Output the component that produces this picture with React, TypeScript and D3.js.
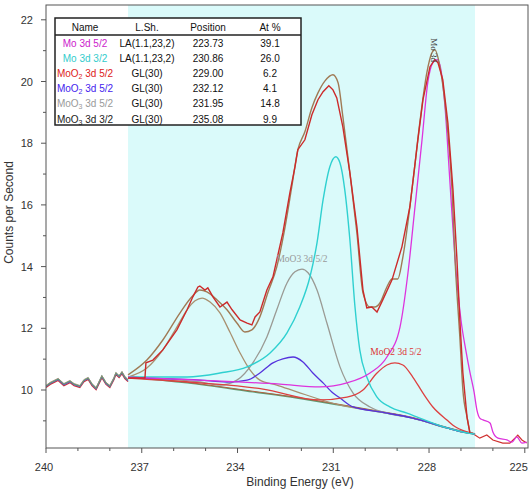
import React from "react";
import * as d3 from "d3";

type Pt = [number, number];

// axis ticks
const energyTicks = [240, 237, 234, 231, 228, 225];
const countTicks = [10, 12, 14, 16, 18, 20, 22];

// fit region (eV)
const fitFrom = 237.43;
const fitTo = 226.56;

// peak table
const rowNames = ["Mo 3d 5/2", "Mo 3d 3/2", "MoO2 3d 5/2", "MoO2 3d 5/2", "MoO3 3d 5/2", "MoO3 3d 3/2"];
const rowShapes = ["LA(1.1,23,2)", "LA(1.1,23,2)", "GL(30)", "GL(30)", "GL(30)", "GL(30)"];
const rowPositions = ["223.73", "230.86", "229.00", "232.12", "231.95", "235.08"];
const rowAtPct = ["39.1", "26.0", "6.2", "4.1", "14.8", "9.9"];
const rowColors = ["#cc22cc", "#33cccc", "#dd2222", "#4422ee", "#9a9a9a", "#222222"];

// raw counts outside the fit region
const rawLeft: Pt[] = [
  [240.0, 10.13], [239.87, 10.23], [239.62, 10.36], [239.44, 10.19], [239.25, 10.29],
  [239.12, 10.19], [238.94, 10.13], [238.81, 10.32], [238.68, 10.39], [238.56, 10.19],
  [238.43, 10.06], [238.31, 10.32], [238.25, 10.45], [238.12, 10.23], [238.0, 10.13],
  [237.87, 10.39], [237.81, 10.55], [237.71, 10.45], [237.62, 10.58], [237.53, 10.42],
  [237.43, 10.32],
];
const rawRight: Pt[] = [
  [226.72, 8.61], [226.66, 8.61], [226.41, 8.44], [226.19, 8.54], [226.0, 8.38],
  [225.69, 8.28], [225.47, 8.28], [225.31, 8.44], [225.22, 8.54], [225.09, 8.38], [224.94, 8.28],
];

// measured counts in the fit region
const counts: Pt[] = [
  [237.43, 10.39], [237.06, 10.39], [236.9, 10.39], [236.87, 10.88], [236.65, 10.97],
  [236.34, 11.3], [235.9, 11.95], [235.58, 12.6], [235.4, 13.02], [235.24, 13.34],
  [235.18, 13.37], [235.02, 13.24], [234.93, 13.31], [234.77, 13.02], [234.55, 12.69],
  [234.33, 12.85], [234.17, 12.6], [233.92, 12.27], [233.7, 12.17], [233.55, 12.11],
  [233.45, 12.37], [233.3, 12.53], [233.08, 13.24], [232.89, 13.67], [232.58, 15.09],
  [232.36, 16.39], [232.2, 17.23], [232.11, 17.79], [231.89, 18.11], [231.67, 18.92],
  [231.48, 19.41], [231.32, 19.67], [231.14, 19.86], [231.01, 19.73], [230.89, 19.47],
  [230.7, 18.53], [230.48, 17.04], [230.26, 15.29], [230.07, 13.24], [229.95, 12.66],
  [229.79, 12.69], [229.63, 12.53], [229.45, 12.92], [229.16, 13.57], [228.85, 14.64],
  [228.6, 15.94], [228.35, 18.11], [228.19, 19.41], [227.97, 20.48], [227.82, 20.71],
  [227.72, 20.61], [227.57, 20.06], [227.41, 18.66], [227.25, 16.49], [227.13, 14.31],
  [227.03, 12.17], [226.94, 10.55], [226.81, 9.12], [226.72, 8.61],
];

// fitted envelope
const envelope: Pt[] = [
  [237.43, 10.49], [236.84, 10.97], [236.34, 11.62], [235.8, 12.5], [235.43, 13.02],
  [235.18, 13.24], [234.96, 13.18], [234.64, 12.92], [234.33, 12.6], [234.02, 12.17],
  [233.77, 11.88], [233.55, 11.95], [233.3, 12.37], [233.05, 13.15], [232.77, 13.99],
  [232.51, 15.29], [232.3, 16.59], [232.11, 17.79], [231.89, 18.37], [231.67, 19.15],
  [231.48, 19.63], [231.26, 20.02], [231.01, 20.22], [230.85, 19.96], [230.7, 18.86],
  [230.48, 17.04], [230.26, 15.09], [230.07, 13.15], [229.85, 12.69], [229.7, 12.69],
  [229.54, 12.82], [229.32, 13.34], [229.16, 13.6], [228.98, 13.6], [228.82, 14.31],
  [228.51, 16.71], [228.29, 18.66], [228.07, 20.28], [227.91, 20.93], [227.82, 21.03],
  [227.66, 20.48], [227.44, 18.66], [227.28, 16.49], [227.19, 14.31], [227.03, 11.62],
  [226.94, 10.0], [226.81, 9.12], [226.72, 8.61],
];

// Shirley background
const background: Pt[] = [
  [237.43, 10.42], [235.58, 10.23], [233.52, 9.94], [232.14, 9.74], [230.79, 9.51],
  [229.54, 9.29], [228.51, 9.09], [227.44, 8.77], [226.94, 8.64], [226.56, 8.57],
];

// components
const moMetal52: Pt[] = [
  [237.43, 10.42], [235.18, 10.32], [232.67, 10.19], [231.42, 10.1], [230.57, 10.23],
  [229.85, 10.55], [229.32, 11.07], [228.91, 12.04], [228.66, 13.8], [228.44, 15.94],
  [228.22, 18.11], [228.04, 19.96], [227.88, 20.61], [227.75, 20.71], [227.66, 20.54],
  [227.5, 19.18], [227.35, 16.81], [227.19, 14.31], [227.0, 12.27], [226.85, 11.3],
  [226.72, 10.58], [226.59, 9.94], [226.5, 9.35], [226.41, 9.09], [226.31, 9.03],
  [226.09, 8.93], [226.0, 8.64], [225.84, 8.44], [225.56, 8.38], [225.4, 8.31],
  [225.25, 8.48], [225.09, 8.28], [224.94, 8.31],
];
const moMetal32: Pt[] = [
  [237.43, 10.42], [235.58, 10.42], [234.55, 10.55], [233.7, 10.75], [232.98, 11.2],
  [232.45, 11.85], [232.05, 12.69], [231.73, 13.67], [231.51, 14.77], [231.32, 16.16],
  [231.11, 17.23], [230.92, 17.56], [230.79, 17.36], [230.64, 16.49], [230.48, 14.87],
  [230.32, 12.69], [230.17, 11.3], [229.95, 10.42], [229.63, 9.77], [229.23, 9.45],
  [228.69, 9.25], [228.29, 9.09], [227.44, 8.77], [226.94, 8.64], [226.56, 8.57],
];
const moO2Red: Pt[] = [
  [237.43, 10.39], [235.18, 10.23], [233.2, 10.03], [231.42, 9.68], [230.57, 9.77],
  [230.07, 10.0], [229.63, 10.55], [229.32, 10.81], [229.07, 10.88], [228.82, 10.81],
  [228.51, 10.42], [228.19, 9.9], [227.88, 9.45], [227.44, 9.03], [227.25, 8.86],
  [226.81, 8.64], [226.56, 8.57],
];
const moO2Blue: Pt[] = [
  [237.43, 10.39], [235.18, 10.32], [234.33, 10.26], [233.7, 10.32], [233.3, 10.55],
  [232.89, 10.88], [232.58, 11.01], [232.26, 11.07], [231.95, 10.91], [231.64, 10.55],
  [231.32, 10.23], [231.01, 9.9], [230.79, 9.74], [230.38, 9.45], [229.54, 9.29],
  [228.51, 9.09], [227.44, 8.77], [226.94, 8.64], [226.56, 8.57],
];
const moO3Grey: Pt[] = [
  [237.43, 10.42], [235.18, 10.26], [234.55, 10.16], [234.02, 10.32], [233.52, 10.88],
  [233.08, 11.72], [232.77, 12.6], [232.45, 13.47], [232.2, 13.83], [231.98, 13.92],
  [231.79, 13.8], [231.51, 13.24], [231.2, 12.17], [230.79, 10.75], [230.38, 9.9],
  [229.85, 9.45], [229.32, 9.25], [228.51, 9.09], [227.44, 8.77], [226.94, 8.64], [226.56, 8.57],
];
const moO3Brown: Pt[] = [
  [237.43, 10.42], [236.84, 10.71], [236.34, 11.3], [235.9, 12.04], [235.58, 12.6],
  [235.33, 12.89], [235.11, 12.98], [234.86, 12.85], [234.55, 12.5], [234.24, 11.88],
  [233.92, 11.2], [233.61, 10.65], [233.3, 10.32], [232.77, 10.16], [232.14, 9.94],
  [230.79, 9.51], [229.54, 9.29], [228.51, 9.09], [227.44, 8.77], [226.94, 8.64], [226.56, 8.57],
];

const sans = "'Liberation Sans', Arial, sans-serif";
const serif = "'Liberation Serif', 'Times New Roman', serif";

function NameLabel({ name, x, y, color }: { name: string; x: number; y: number; color: string }) {
  const m = name.match(/^(MoO)(\d)(.*)$/);
  return (
    <text x={x} y={y} textAnchor="middle" fill={color} fontSize={10} fontFamily={sans}>
      {m ? (
        <>
          {m[1]}
          <tspan fontSize={7} dy={2}>{m[2]}</tspan>
          <tspan dy={-2}>{m[3]}</tspan>
        </>
      ) : (
        name
      )}
    </text>
  );
}

export default function App() {
  const width = 531,
    height = 489;

  const x = d3.scaleLinear().domain([240, 224.9]).range([46, 528]);
  const y = d3.scaleLinear().domain([8.12, 22.48]).range([448, 5]);

  const smooth = d3
    .line<Pt>()
    .x((d) => x(d[0]))
    .y((d) => y(d[1]))
    .curve(d3.curveMonotoneX);
  const jagged = d3
    .line<Pt>()
    .x((d) => x(d[0]))
    .y((d) => y(d[1]));

  const [x0, x1] = x.range();
  const [yb, yt] = y.range();

  const minorX = d3.range(240, 224.9, -1).filter((v) => !energyTicks.includes(v));
  const minorY = d3.range(9, 22.5, 1).filter((v) => !countTicks.includes(v));

  // table layout
  const tbl = { left: 55, right: 301, top: 18, bottom: 125 };
  const colX = [85, 147, 208, 270];
  const rowY = (i: number) => 46.5 + i * 15.2;

  return (
    <svg
      width={width}
      height={height}
      style={{ position: "absolute", left: 0, top: 0, background: "#fff" }}
    >
      <defs>
        <clipPath id="plot">
          <rect x={x0} y={yt} width={x1 - x0} height={yb - yt} />
        </clipPath>
      </defs>

      {/* fit region shading */}
      <rect x={x(fitFrom)} y={yt} width={x(fitTo) - x(fitFrom)} height={yb - yt} fill="#dafafa" />

      <g clipPath="url(#plot)" fill="none">
        {/* raw data outside the fit, several overlapping traces */}
        <path d={jagged(rawLeft)!} stroke="#d03030" strokeWidth={1.3} transform="translate(0,1.5)" />
        <path d={jagged(rawLeft)!} stroke="#6a5acd" strokeWidth={1.1} transform="translate(0,0.6)" />
        <path d={jagged(rawLeft)!} stroke="#4f9a7f" strokeWidth={1.2} />
        <path d={jagged(rawLeft)!} stroke="#a08a70" strokeWidth={0.8} transform="translate(0,-0.6)" />
        <path d={jagged(rawRight)!} stroke="#d03030" strokeWidth={1.2} />

        {/* background */}
        <path d={smooth(background)!} stroke="#5f9a72" strokeWidth={1.4} />
        <path d={smooth(background)!} stroke="#b06040" strokeWidth={1} transform="translate(0,-0.6)" />

        {/* components */}
        <path d={smooth(moO3Brown)!} stroke="#a89070" strokeWidth={1.3} />
        <path d={smooth(moO3Grey)!} stroke="#9a9a94" strokeWidth={1.3} />
        <path d={smooth(moO2Blue)!} stroke="#5533dd" strokeWidth={1.3} />
        <path d={smooth(moO2Red)!} stroke="#dd4040" strokeWidth={1.3} />
        <path d={smooth(moMetal32)!} stroke="#2fd0d0" strokeWidth={1.4} />
        <path d={smooth(moMetal52)!} stroke="#dd33dd" strokeWidth={1.3} />

        {/* envelope and data */}
        <path d={smooth(envelope)!} stroke="#a07a55" strokeWidth={1.4} />
        <path d={jagged(counts)!} stroke="#cc2a2a" strokeWidth={1.4} />
      </g>

      {/* peak labels */}
      <text x={x(231.98)} y={y(14.15)} textAnchor="middle" fontSize={9.5} fontFamily={serif} fill="#999">
        MoO3 3d 5/2
      </text>
      <text x={x(229.04)} y={y(11.12)} textAnchor="middle" fontSize={9.5} fontFamily={serif} fill="#dd3333">
        MoO2 3d 5/2
      </text>
      <text
        transform={`translate(${x(227.86) - 3},${y(21.4)}) rotate(90)`}
        fontSize={9}
        fontFamily={serif}
        fill="#444"
      >
        Mo 3d
      </text>

      {/* frame */}
      <rect x={x0} y={yt} width={x1 - x0} height={yb - yt} fill="none" stroke="#555" strokeWidth={1} />

      {/* x axis */}
      {energyTicks.map((t, i) => (
        <g key={"xt" + t}>
          <line x1={x(t)} x2={x(t)} y1={yb} y2={yb + 5} stroke="#555" />
          <text
            x={i === energyTicks.length - 1 ? x(t) + 3 : x(t) - 2}
            y={yb + 23}
            textAnchor={i === energyTicks.length - 1 ? "end" : "middle"}
            fontSize={11}
            fontFamily={sans}
            fill="#333"
          >
            {t}
          </text>
        </g>
      ))}
      {minorX.map((t) => (
        <line key={"xm" + t} x1={x(t)} x2={x(t)} y1={yb} y2={yb + 3} stroke="#555" />
      ))}
      <text x={300} y={486} textAnchor="middle" fontSize={12} fontFamily={sans} fill="#333">
        Binding Energy (eV)
      </text>

      {/* y axis */}
      {countTicks.map((t) => (
        <g key={"yt" + t}>
          <line x1={x0 - 5} x2={x0} y1={y(t)} y2={y(t)} stroke="#555" />
          <text x={33} y={y(t) + 4} textAnchor="end" fontSize={11} fontFamily={sans} fill="#333">
            {t}
          </text>
        </g>
      ))}
      {minorY.map((t) => (
        <line key={"ym" + t} x1={x0 - 3} x2={x0} y1={y(t)} y2={y(t)} stroke="#555" />
      ))}
      <text
        transform={`translate(13,${(yt + yb) / 2 - 14}) rotate(-90)`}
        textAnchor="middle"
        fontSize={12}
        fontFamily={sans}
        fill="#333"
      >
        Counts per Second
      </text>

      {/* table */}
      <rect
        x={tbl.left}
        y={tbl.top}
        width={tbl.right - tbl.left}
        height={tbl.bottom - tbl.top}
        fill="#fff"
        stroke="#222"
        strokeWidth={1.5}
      />
      <line x1={tbl.left} x2={tbl.right} y1={35} y2={35} stroke="#222" strokeWidth={1.5} />
      {["Name", "L.Sh.", "Position", "At %"].map((h, i) => (
        <text key={h} x={colX[i]} y={30.5} textAnchor="middle" fontSize={10} fontFamily={sans} fill="#111">
          {h}
        </text>
      ))}
      {rowNames.map((n, i) => (
        <g key={i}>
          <NameLabel name={n} x={colX[0]} y={rowY(i)} color={rowColors[i]} />
          <text x={colX[1]} y={rowY(i)} textAnchor="middle" fontSize={10} fontFamily={sans} fill="#111">
            {rowShapes[i]}
          </text>
          <text x={colX[2]} y={rowY(i)} textAnchor="middle" fontSize={10} fontFamily={sans} fill="#111">
            {rowPositions[i]}
          </text>
          <text x={colX[3]} y={rowY(i)} textAnchor="middle" fontSize={10} fontFamily={sans} fill="#111">
            {rowAtPct[i]}
          </text>
        </g>
      ))}
    </svg>
  );
}
